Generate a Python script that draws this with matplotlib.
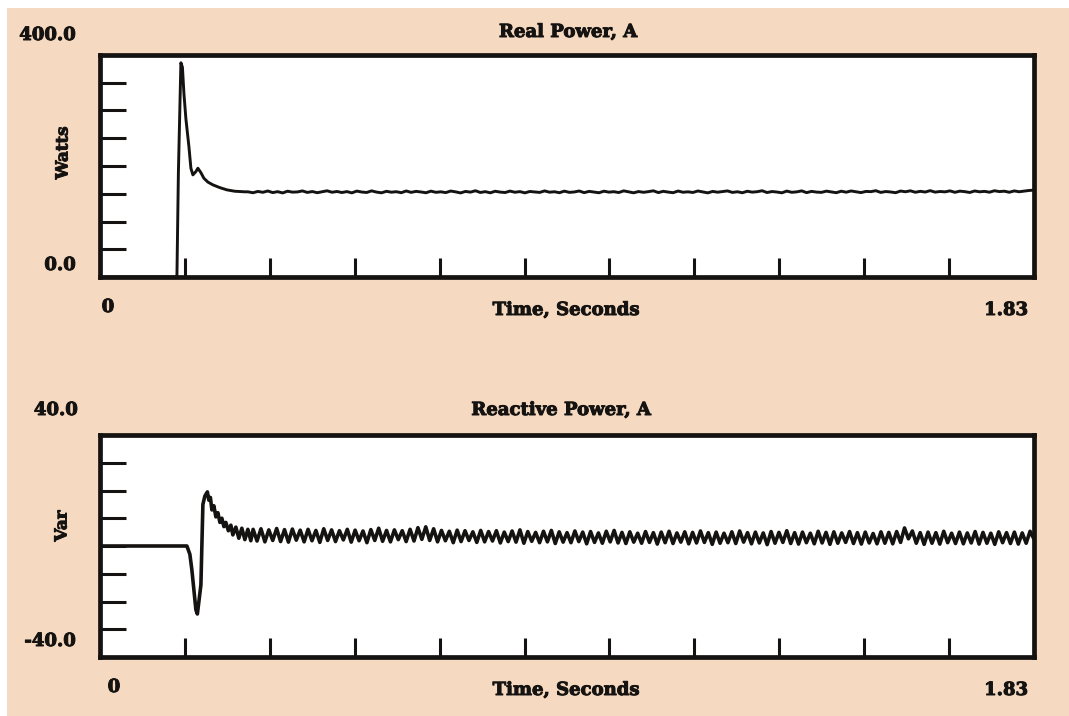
import numpy as np
import matplotlib
matplotlib.use("Agg")
import matplotlib.pyplot as plt
from matplotlib.patches import Rectangle
import matplotlib.patheffects as pe

W, H = 1069, 716
T_END = 1.83

# ---------------- data ----------------
# Real power (W): transient
real_t_trans = [0.0, 0.1507, 0.1536, 0.1585, 0.1615, 0.1644, 0.1683, 0.1742,
                0.1781, 0.1820, 0.1879, 0.1918, 0.1977, 0.2035, 0.2114, 0.2212,
                0.2349, 0.2486, 0.2642, 0.2838]
real_v_trans = [0.0, 0.0, 188.0, 386.0, 378.0, 331.0, 285.0, 235.0,
                196.0, 184.0, 190.0, 196.0, 188.0, 178.0, 171.0, 166.0,
                161.0, 157.0, 154.5, 153.5]
# Real power steady state (0.29 s .. 1.83 s)
real_v_steady = [
    153.5, 151.8, 154.2, 152.6, 155.0, 152.1, 153.8, 151.5, 154.6, 152.9, 153.3, 155.1, 152.4, 154.0, 151.9, 153.6, 155.3, 152.7, 154.1, 152.2,
    153.9, 151.6, 154.8, 153.1, 152.3, 155.2, 153.0, 151.7, 154.4, 152.8, 153.7, 151.9, 155.0, 152.5, 154.3, 153.2, 151.8, 154.7, 152.6, 153.5,
    152.1, 154.9, 153.4, 151.5, 154.2, 152.9, 155.4, 152.3, 153.8, 151.7, 154.5, 153.0, 152.2, 154.8, 152.7, 153.9, 151.6, 154.1, 153.3, 152.4,
    155.1, 152.8, 153.6, 151.9, 154.7, 152.5, 153.2, 155.0, 152.0, 154.3, 153.1, 151.8, 154.6, 152.9, 153.7, 152.2, 155.2, 153.4, 151.7, 154.0,
    152.6, 153.8, 155.3, 152.1, 154.4, 153.0, 151.9, 154.9, 152.7, 153.5, 152.3, 155.0, 153.2, 151.6, 154.2, 152.8, 153.9, 155.1, 152.4, 153.6,
    151.8, 154.5, 152.9, 153.7, 155.4, 152.2, 154.0, 153.1, 151.7, 154.8, 152.6, 153.4, 155.2, 152.0, 154.3, 153.0, 152.5, 154.7, 153.3, 151.9,
    154.6, 152.8, 155.0, 153.5, 152.1, 154.2, 153.8, 155.5, 152.4, 154.0, 153.2, 151.9, 154.9, 153.6, 155.3, 152.7, 154.4, 153.1, 155.6, 152.9,
    154.1, 153.4, 155.2, 152.6, 154.7, 153.8, 152.3, 155.0, 153.5, 154.3, 152.8, 155.4, 153.9, 154.6, 152.7, 155.1, 153.6, 154.8, 155.9, 156.5,
]

# Reactive power (Var): transient
react_t_trans = [0.0, 0.1703, 0.1761, 0.1800, 0.1840, 0.1879, 0.1908, 0.1937,
                 0.1977, 0.1996, 0.2016, 0.2055, 0.2104, 0.2133, 0.2163, 0.2192,
                 0.2231, 0.2270, 0.2310, 0.2349, 0.2388, 0.2427, 0.2466, 0.2515,
                 0.2564, 0.2603, 0.2662, 0.2720, 0.2779, 0.2838, 0.2897, 0.2955]
react_v_trans = [0.0, 0.0, -3.0, -8.6, -16.0, -23.0, -24.5, -20.0,
                 -14.0, 0.0, 15.0, 18.0, 19.5, 16.5, 17.5, 13.0,
                 14.5, 10.5, 12.0, 8.5, 10.0, 7.0, 8.5, 5.5,
                 7.5, 4.0, 6.8, 2.8, 6.4, 2.3, 6.0, 1.9]
# Reactive power steady state (0.30 s .. 1.83 s)
react_v_steady = [
    6.0, 1.8, 6.2, 1.5, 5.8, 2.0, 6.3, 1.6, 5.9, 1.4, 6.1, 2.1, 5.7, 1.5, 6.0, 1.9, 5.6, 1.3, 6.2, 2.0,
    5.8, 1.6, 5.5, 2.2, 6.0, 1.4, 5.7, 1.9, 5.4, 1.2, 5.9, 2.0, 6.4, 1.7, 5.6, 1.5, 5.8, 2.3, 5.5, 1.6,
    6.0, 1.8, 6.6, 2.4, 6.9, 2.0, 6.2, 1.5, 5.6, 1.9, 5.3, 1.2, 5.7, 1.6, 5.5, 2.0, 5.1, 1.3, 5.6, 1.5,
    5.2, 1.8, 5.5, 1.1, 5.0, 1.6, 5.4, 1.4, 5.8, 1.0, 5.2, 1.7, 4.9, 1.2, 5.3, 1.5, 5.6, 0.9, 5.1, 1.4,
    4.8, 1.2, 5.4, 1.6, 5.0, 0.8, 5.2, 1.3, 4.7, 1.0, 5.3, 1.5, 5.6, 1.1, 4.9, 0.9, 5.1, 1.4, 4.6, 1.0,
    5.2, 1.3, 4.8, 0.7, 5.0, 1.2, 5.3, 0.9, 4.7, 1.4, 5.1, 0.8, 4.9, 1.1, 5.4, 1.3, 4.8, 0.6, 5.0, 1.0,
    4.6, 1.2, 5.1, 0.9, 5.4, 1.4, 4.8, 0.8, 5.0, 1.1, 4.7, 0.5, 5.2, 1.0, 4.9, 1.3, 5.5, 0.9, 4.8, 0.7,
    5.0, 1.2, 4.6, 0.8, 5.3, 1.1, 4.9, 0.6, 5.1, 1.0, 4.7, 1.3, 5.2, 0.9, 4.8, 0.7, 5.0, 1.1, 4.5, 0.8,
    5.1, 1.0, 4.9, 0.8, 5.2, 1.3, 6.5, 2.6, 5.4, 1.0, 4.8, 0.6, 5.0, 1.0, 4.8, 0.7, 5.3, 1.2, 4.6, 0.9,
    5.0, 0.8, 4.7, 1.1, 5.2, 0.7, 4.9, 1.0, 4.6, 0.6, 5.1, 1.2, 4.8, 0.9, 5.0, 0.7, 4.7, 1.0, 5.3, 2.5,
]

titles = ["Real Power, A", "Reactive Power, A"]
ylabels = ["Watts", "Var"]
ylims = [(0.0, 400.0), (-40.0, 40.0)]
ytick_top = [50, 100, 150, 200, 250, 300, 350]
ytick_bot = [-30, -20, -10, 0, 10, 20, 30]
ylab_top = ["400.0", "0.0"]
ylab_bot = ["40.0", "-40.0"]
xlab_text = "Time, Seconds"
xend_labels = ["0", "1.83"]
n_xdiv = 11

# ---------------- figure ----------------
BG = "#f5d9c0"
INK = "#151311"
fig = plt.figure(figsize=(W / 100, H / 100), dpi=100, facecolor=BG)
font = dict(family="DejaVu Serif", weight="bold", color=INK,
            path_effects=[pe.withStroke(linewidth=0.7, foreground=INK)])

def px(x, y):
    return x / W, 1 - y / H

ax1 = fig.add_axes([100 / W, 1 - 277 / H, 934 / W, 222 / H])
ax2 = fig.add_axes([100 / W, 1 - 657 / H, 934 / W, 222 / H])

real_t = np.concatenate([real_t_trans, np.linspace(0.29, T_END, len(real_v_steady))])
real_v = np.concatenate([real_v_trans, real_v_steady])
react_t = np.concatenate([react_t_trans, np.linspace(0.30, T_END, len(react_v_steady))])
react_v = np.concatenate([react_v_trans, react_v_steady])

ax1.plot(real_t, real_v, color=INK, lw=2.1, zorder=2)
ax2.plot(react_t, react_v, color=INK, lw=2.6, zorder=2)

xticks = [T_END * k / n_xdiv for k in range(1, n_xdiv + 1)]
for ax, yl, yt in [(ax1, ylims[0], ytick_top), (ax2, ylims[1], ytick_bot)]:
    ax.set_facecolor("white")
    ax.set_xlim(0, T_END)
    ax.set_ylim(*yl)
    ax.set_xticks(xticks)
    ax.set_yticks(yt)
    ax.tick_params(axis="x", direction="in", length=14, width=2.2, color=INK,
                   labelbottom=False)
    ax.tick_params(axis="y", direction="in", length=19, width=2.2, color=INK,
                   labelleft=False)
    for s in ax.spines.values():
        s.set_linewidth(3.4)
        s.set_color(INK)
        s.set_zorder(3)

fs = 13
# top panel text
fig.text(*px(568, 32), titles[0], ha="center", va="center", fontsize=fs, **font)
fig.text(*px(76, 35), ylab_top[0], ha="right", va="center", fontsize=fs, **font)
fig.text(*px(76, 265), ylab_top[1], ha="right", va="center", fontsize=fs, **font)
fig.text(*px(63, 153), ylabels[0], ha="center", va="center", rotation=90, fontsize=fs - 1, **font)
fig.text(*px(108, 307), xend_labels[0], ha="center", va="center", fontsize=fs, **font)
fig.text(*px(566, 310), xlab_text, ha="center", va="center", fontsize=fs, **font)
fig.text(*px(1028, 310), xend_labels[1], ha="right", va="center", fontsize=fs, **font)

# bottom panel text
fig.text(*px(561, 410), titles[1], ha="center", va="center", fontsize=fs, **font)
fig.text(*px(78, 410), ylab_bot[0], ha="right", va="center", fontsize=fs, **font)
fig.text(*px(76, 641), ylab_bot[1], ha="right", va="center", fontsize=fs, **font)
fig.text(*px(62, 526), ylabels[1], ha="center", va="center", rotation=90, fontsize=fs - 1, **font)
fig.text(*px(114, 687), xend_labels[0], ha="center", va="center", fontsize=fs, **font)
fig.text(*px(566, 690), xlab_text, ha="center", va="center", fontsize=fs, **font)
fig.text(*px(1028, 690), xend_labels[1], ha="right", va="center", fontsize=fs, **font)

# white scan margins
fig.add_artist(Rectangle((0, 0), 7 / W, 1, transform=fig.transFigure,
                         facecolor="white", edgecolor="none", zorder=-1))
fig.add_artist(Rectangle((0, 1 - 8 / H), 1, 8 / H, transform=fig.transFigure,
                         facecolor="white", edgecolor="none", zorder=-1))

fig.savefig("out.png", dpi=100, facecolor=BG)
